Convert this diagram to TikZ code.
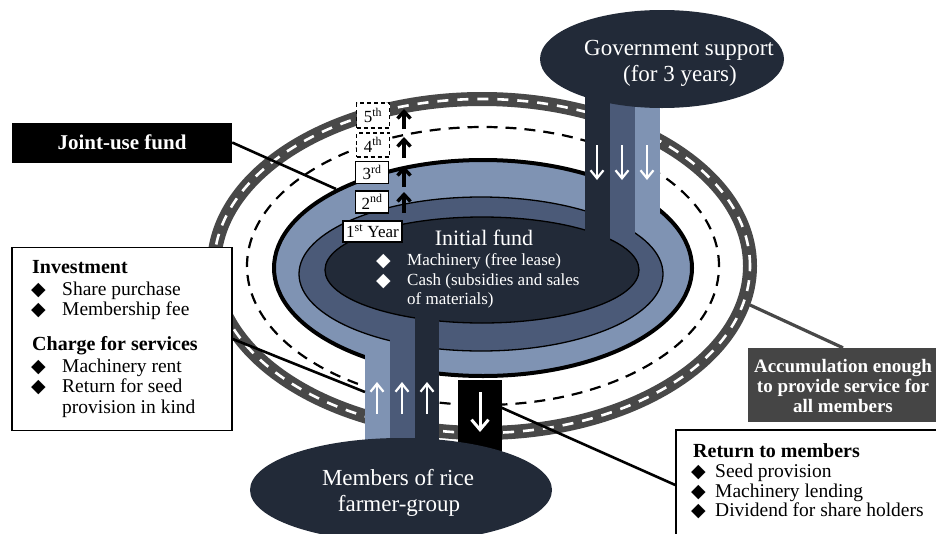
\documentclass[tikz,border=0pt]{standalone}
\usepackage{fontspec}
\setmainfont{Liberation Serif}
\newfontfamily\symfont{DejaVu Sans}
\usetikzlibrary{arrows.meta,shapes.geometric}
\definecolor{navy}{HTML}{222A38}
\definecolor{midb}{HTML}{4B5A78}
\definecolor{lightb}{HTML}{7F93B3}
\definecolor{roadc}{HTML}{484848}
\definecolor{accbox}{HTML}{454545}
\newcommand\mydiam{{\symfont\fontsize{19pt}{19pt}\selectfont ◆}}
\begin{document}
\begin{tikzpicture}[x=1pt,y=-1pt,
  lbl/.style={inner sep=0pt, anchor=base west},
  ctr/.style={inner sep=0pt, anchor=base},
  fbig/.style={font=\fontsize{23pt}{26pt}\selectfont},
  fbox/.style={font=\fontsize{19.5pt}{20pt}\selectfont},
  fboxb/.style={font=\fontsize{20pt}{20pt}\selectfont\bfseries},
  finit/.style={font=\fontsize{17pt}{20pt}\selectfont},
  ybox/.style={draw, fill=white, line width=1.3pt, inner sep=1pt, minimum height=22pt, minimum width=33pt, font=\fontsize{17pt}{17pt}\selectfont},
  ydash/.style={dash pattern=on 4pt off 3pt},
  warrow/.style={white, line width=2.2pt, -{Straight Barb[length=8pt,width=13pt]}},
  yarrow/.style={black, line width=3.4pt, -{Straight Barb[length=7pt,width=13pt]}},
  callout/.style={black, line width=2.6pt}
]
\useasboundingbox (0,0) rectangle (936,533);
\fill[white] (0,0) rectangle (936,533);

% outer road
\draw[roadc, line width=14pt] (482,266) ellipse [x radius=268pt, y radius=167pt];
\draw[white, line width=2.6pt, dash pattern=on 11pt off 9pt] (482,266) ellipse [x radius=268pt, y radius=167pt];
% dashed ellipse
\draw[black, line width=2.2pt, dash pattern=on 11pt off 8pt] (483,266) ellipse [x radius=236pt, y radius=139pt];

% light ring
\filldraw[fill=lightb, draw=black, line width=4pt] (483,268) ellipse [x radius=209pt, y radius=108pt];
\fill[lightb] (635,90) rectangle (660,268);
\fill[lightb] (365,268) rectangle (390,460);
% medium ring
\filldraw[fill=midb, draw=black, line width=1.3pt] (481,274) ellipse [x radius=182pt, y radius=77pt];
\fill[midb] (610,90) rectangle (635,268);
\fill[midb] (390,268) rectangle (415,460);
% inner
\filldraw[fill=navy, draw=black, line width=1.3pt] (482,270) ellipse [x radius=157pt, y radius=53pt];
\fill[navy] (585,90) rectangle (610,268);
\fill[navy] (415,268) rectangle (439,460);

% black return column
\fill[black] (458,380) rectangle (502,456);
\draw[white, line width=3pt, -{Straight Barb[length=10pt,width=17pt]}] (480,392) -- (480,432);

% main ellipses
\node[ellipse, fill=navy, inner sep=0pt, minimum width=244pt, minimum height=98pt] (gov) at (662,59) {};
\node[ellipse, fill=navy, inner sep=0pt, minimum width=302pt, minimum height=104pt] (mem) at (401,490) {};

\node[ctr, fbig, text=white] (govt1) at (679,55) {Government support};
\node[ctr, fbig, text=white] (govt2) at (680,81) {(for 3 years)};
\node[ctr, fbig, text=white] (memt1) at (398,485) {Members of rice};
\node[ctr, fbig, text=white] (memt2) at (399,511) {farmer-group};

% flow arrows
\draw[warrow] (597,145) -- (597,180);
\draw[warrow] (622,145) -- (622,180);
\draw[warrow] (647,145) -- (647,180);
\draw[warrow] (377,414) -- (377,382);
\draw[warrow] (402,414) -- (402,382);
\draw[warrow] (427,414) -- (427,382);

% initial fund text
\node[ctr, text=white, font=\fontsize{22pt}{24pt}\selectfont] (initf) at (484,245) {Initial fund};
\node[lbl, text=white] (d1) at (376,266) {\mydiam};
\node[lbl, text=white] (d2) at (376,286) {\mydiam};
\node[lbl, finit, text=white] (i1) at (407,265) {Machinery (free lease)};
\node[lbl, finit, text=white] (i2) at (407,285) {Cash (subsidies and sales};
\node[lbl, finit, text=white] (i3) at (407,304) {of materials)};

% year labels
\node[ybox, minimum width=59pt, minimum height=21pt] (y1) at (372.5,231.5) {1\textsuperscript{st} Year};
\node[ybox] (y2) at (372,202) {2\textsuperscript{nd}};
\node[ybox] (y3) at (372,172.5) {3\textsuperscript{rd}};
\node[ybox, ydash, minimum height=24pt] (y4) at (373,145) {4\textsuperscript{th}};
\node[ybox, ydash, minimum height=25pt] (y5) at (373,115.5) {5\textsuperscript{th}};
\draw[yarrow] (404,213) -- (404,192);
\draw[yarrow] (404,187) -- (404,166);
\draw[yarrow] (404,158) -- (404,137);
\draw[yarrow] (404,129) -- (404,109);

% callout lines
\coordinate (jfend) at (336,189);
\coordinate (invend) at (365,392);
\coordinate (accend) at (750,305);
\coordinate (retstart) at (500,407);

\node[fill=black, inner sep=0pt, minimum width=220pt, minimum height=40pt, text=white, font=\fontsize{21pt}{21pt}\selectfont\bfseries] (jf) at (122,142.5) {Joint-use fund};
\node[draw=black, line width=1.4pt, fill=white, inner sep=0pt, minimum width=220pt, minimum height=183pt] (inv) at (122,339) {};
\node[fill=accbox, inner sep=0pt, minimum width=190pt, minimum height=74pt] (acc) at (843,385) {};
\node[draw=black, line width=1.4pt, fill=white, inner sep=0pt, minimum width=264pt, minimum height=110pt] (ret) at (808,485) {};

\draw[callout] (jf.east) -- (jfend);
\draw[callout] (inv.east) -- (invend);
\draw[roadc, line width=3.2pt] (accend) -- (acc.north);
\draw[callout] (retstart) -- (ret.west);

% investment text
\node[lbl, fboxb] (invh) at (32,273) {Investment};
\node[lbl] (inv1d) at (31,295) {\mydiam};
\node[lbl, fbox] (inv1) at (62,295) {Share purchase};
\node[lbl] (inv2d) at (31,315) {\mydiam};
\node[lbl, fbox] (inv2) at (62,315) {Membership fee};
\node[lbl, fboxb] (chh) at (32,350) {Charge for services};
\node[lbl] (ch1d) at (31,372) {\mydiam};
\node[lbl, fbox] (ch1) at (62,372) {Machinery rent};
\node[lbl] (ch2d) at (31,392) {\mydiam};
\node[lbl, fbox] (ch2) at (62,392) {Return for seed};
\node[lbl, fbox] (ch3) at (62,413) {provision in kind};

% accumulation text
\node[ctr, text=white, font=\fontsize{19pt}{19pt}\selectfont\bfseries] (acc1) at (843,372) {Accumulation enough};
\node[ctr, text=white, font=\fontsize{19pt}{19pt}\selectfont\bfseries] (acc2) at (843,392) {to provide service for};
\node[ctr, text=white, font=\fontsize{19pt}{19pt}\selectfont\bfseries] (acc3) at (843,412) {all members};

% return text
\node[lbl, fboxb] (reth) at (693,457) {Return to members};
\node[lbl] (r1d) at (691,477) {\mydiam};
\node[lbl, fbox] (r1) at (715,477) {Seed provision};
\node[lbl] (r2d) at (691,497) {\mydiam};
\node[lbl, fbox] (r2) at (715,497) {Machinery lending};
\node[lbl] (r3d) at (691,516) {\mydiam};
\node[lbl, fbox] (r3) at (715,516) {Dividend for share holders};
\end{tikzpicture}
\end{document}
